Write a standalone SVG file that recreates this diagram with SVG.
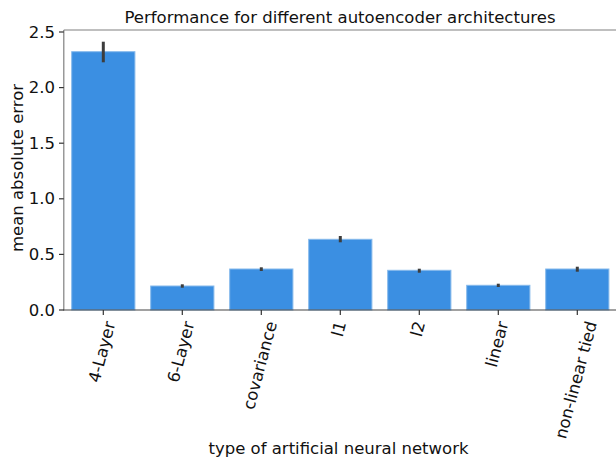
<svg xmlns="http://www.w3.org/2000/svg" width="616" height="457" viewBox="0 0 616 457">
<style>
text{font-family:"DejaVu Sans","Liberation Sans",sans-serif;font-size:16.5px;fill:#111}
.bar{fill:#3b8fe2;stroke:#86b9ec;stroke-width:1}
.err{stroke:#3d3d3d;stroke-width:3}
.tick{stroke:#333;stroke-width:1.2}
.yl{text-anchor:end;dominant-baseline:central}
</style>
<rect width="616" height="457" fill="#fff"/>
<g id="title"><text x="340" y="23" text-anchor="middle">Performance for different autoencoder architectures</text></g>
<g id="bars">
<g id="bar-4-Layer"><rect class="bar" x="71.7" y="51.7" width="63.2" height="258.3"/><line class="err" x1="103.3" y1="41.7" x2="103.3" y2="62.3"/></g>
<g id="bar-6-Layer"><rect class="bar" x="150.7" y="286" width="63.2" height="24"/><line class="err" x1="182.3" y1="284.3" x2="182.3" y2="287.7"/></g>
<g id="bar-covariance"><rect class="bar" x="229.7" y="269" width="63.2" height="41"/><line class="err" x1="261.3" y1="267.3" x2="261.3" y2="271"/></g>
<g id="bar-l1"><rect class="bar" x="308.7" y="239.3" width="63.2" height="70.7"/><line class="err" x1="340.3" y1="236" x2="340.3" y2="242.3"/></g>
<g id="bar-l2"><rect class="bar" x="387.7" y="270.3" width="63.2" height="39.7"/><line class="err" x1="419.3" y1="268.7" x2="419.3" y2="272.7"/></g>
<g id="bar-linear"><rect class="bar" x="466.7" y="285.3" width="63.2" height="24.7"/><line class="err" x1="498.3" y1="283.7" x2="498.3" y2="287"/></g>
<g id="bar-non-linear-tied"><rect class="bar" x="545.7" y="269" width="63.2" height="41"/><line class="err" x1="577.3" y1="266.7" x2="577.3" y2="271.7"/></g>
</g>
<g id="axes">
<line x1="63.8" y1="30" x2="616" y2="30" stroke="#808080" stroke-width="1.2"/>
<line x1="63.8" y1="30" x2="63.8" y2="310.6" stroke="#808080" stroke-width="1.2"/>
<line x1="63.2" y1="310" x2="616" y2="310" stroke="#444" stroke-width="1.2"/>
</g>
<g id="yticks">
<line class="tick" x1="59" y1="310" x2="63.8" y2="310"/><text class="yl" x="55" y="310">0.0</text>
<line class="tick" x1="59" y1="254.4" x2="63.8" y2="254.4"/><text class="yl" x="55" y="254.4">0.5</text>
<line class="tick" x1="59" y1="198.8" x2="63.8" y2="198.8"/><text class="yl" x="55" y="198.8">1.0</text>
<line class="tick" x1="59" y1="143.2" x2="63.8" y2="143.2"/><text class="yl" x="55" y="143.2">1.5</text>
<line class="tick" x1="59" y1="87.6" x2="63.8" y2="87.6"/><text class="yl" x="55" y="87.6">2.0</text>
<line class="tick" x1="59" y1="32" x2="63.8" y2="32"/><text class="yl" x="55" y="32">2.5</text>
</g>
<g id="xticks">
<line class="tick" x1="103.3" y1="310" x2="103.3" y2="315"/>
<line class="tick" x1="182.3" y1="310" x2="182.3" y2="315"/>
<line class="tick" x1="261.3" y1="310" x2="261.3" y2="315"/>
<line class="tick" x1="340.3" y1="310" x2="340.3" y2="315"/>
<line class="tick" x1="419.3" y1="310" x2="419.3" y2="315"/>
<line class="tick" x1="498.3" y1="310" x2="498.3" y2="315"/>
<line class="tick" x1="577.3" y1="310" x2="577.3" y2="315"/>
<text transform="translate(99.3 383.6) rotate(-75)">4-Layer</text>
<text transform="translate(178.3 383.6) rotate(-75)">6-Layer</text>
<text transform="translate(253.7 410.4) rotate(-75)">covariance</text>
<text transform="translate(342.4 337.8) rotate(-75)">l1</text>
<text transform="translate(421.4 337.8) rotate(-75)">l2</text>
<text transform="translate(496.4 368.3) rotate(-75)">linear</text>
<text transform="translate(565.8 439.7) rotate(-75)">non-linear tied</text>
</g>
<g id="labels">
<text transform="translate(23 168) rotate(-90)" text-anchor="middle">mean absolute error</text>
<text x="338.5" y="453.5" text-anchor="middle">type of artificial neural network</text>
</g>
</svg>
